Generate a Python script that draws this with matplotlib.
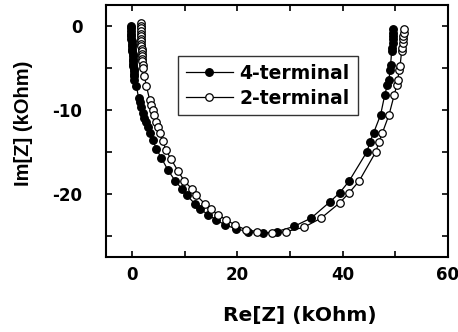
import matplotlib
matplotlib.use("Agg")
import matplotlib.pyplot as plt
from matplotlib.ticker import MultipleLocator

plt.rcParams['font.family'] = ['DejaVu Sans']
plt.rcParams['font.weight'] = 'bold'
plt.rcParams['axes.unicode_minus'] = False

series_labels = ["4-terminal", "2-terminal"]

re_4t = [-0.3, -0.3, -0.25, -0.2, -0.2, -0.15, -0.1, -0.1, -0.05, 0.0, 0.0, 0.05, 0.1, 0.1,
         0.15, 0.2, 0.2, 0.25, 0.3, 0.3, 0.35, 0.4, 0.8, 1.2, 1.4, 1.7, 2.0, 2.3, 2.6, 2.9,
         3.4, 3.9, 4.6, 5.5, 6.8, 8.2, 9.4, 10.4, 11.9, 12.9, 14.4, 15.9, 17.6, 19.8, 22.0,
         24.8, 27.5, 30.7, 34.0, 37.5, 39.4, 41.2, 44.6, 45.2, 45.9, 47.2, 48.0, 48.5, 48.8,
         49.0, 49.1, 49.3, 49.4, 49.5, 49.5, 49.5, 49.6, 49.6]
im_4t = [0.0, -0.3, -0.6, -0.9, -1.2, -1.5, -1.8, -2.1, -2.4, -2.7, -3.0, -3.3, -3.6, -3.9,
         -4.2, -4.5, -4.8, -5.1, -5.4, -5.7, -6.0, -6.4, -7.2, -8.6, -9.1, -9.6, -10.4, -11.0,
         -11.5, -12.0, -12.7, -13.6, -14.7, -15.7, -17.2, -18.5, -19.4, -20.2, -21.2, -21.8,
         -22.5, -23.1, -23.7, -24.2, -24.5, -24.7, -24.5, -23.9, -22.9, -21.0, -19.9, -18.5,
         -15.0, -13.8, -12.7, -10.6, -8.2, -7.0, -6.4, -5.2, -4.7, -3.0, -2.6, -2.0, -1.6,
         -1.2, -0.8, -0.4]

re_2t = [1.6, 1.6, 1.6, 1.65, 1.65, 1.7, 1.7, 1.7, 1.75, 1.75, 1.8, 1.8, 1.85, 1.85, 1.9,
         1.9, 1.95, 2.0, 2.3, 2.7, 3.3, 3.6, 3.9, 4.2, 4.5, 4.8, 5.3, 5.8, 6.4, 7.4, 8.7, 9.9,
         11.3, 12.2, 13.8, 14.9, 16.3, 17.8, 19.5, 21.6, 23.8, 26.5, 29.3, 32.6, 35.9, 39.4,
         41.2, 43.1, 46.3, 46.9, 47.5, 48.8, 49.8, 50.3, 50.5, 50.7, 50.9, 51.2, 51.3, 51.4,
         51.4, 51.5, 51.6, 51.6]
im_2t = [0.3, 0.0, -0.3, -0.6, -0.9, -1.2, -1.5, -1.8, -2.1, -2.4, -2.7, -3.0, -3.3, -3.6,
         -3.9, -4.2, -4.6, -5.0, -6.0, -7.2, -8.8, -9.4, -10.0, -10.6, -11.4, -12.0, -12.8,
         -13.7, -14.8, -15.9, -17.3, -18.5, -19.4, -20.2, -21.2, -21.8, -22.5, -23.1, -23.7,
         -24.3, -24.5, -24.7, -24.5, -24.0, -22.9, -21.1, -19.9, -18.5, -15.0, -13.8, -12.8,
         -10.6, -8.2, -7.0, -6.4, -5.2, -4.8, -3.0, -2.6, -2.0, -1.6, -1.2, -0.8, -0.4]

xticks = [0, 20, 40, 60]
yticks = [0, -10, -20]

fig = plt.figure(figsize=(4.58, 3.32), dpi=100)
ax = fig.add_axes([0.2314, 0.2268, 0.7466, 0.7582])

ax.plot(re_4t, im_4t, '-o', color='black', mfc='black', mec='black', ms=5.4, lw=0.9,
        label=series_labels[0])
ax.plot(re_2t, im_2t, '-o', color='black', mfc='white', mec='black', ms=5.4, lw=0.9,
        mew=0.9, label=series_labels[1])

ax.set_xlim(-5, 60)
ax.set_ylim(-27.5, 2.5)
ax.set_xticks(xticks)
ax.set_yticks(yticks)
ax.xaxis.set_minor_locator(MultipleLocator(10))
ax.yaxis.set_minor_locator(MultipleLocator(5))
ax.tick_params(which='both', direction='in', top=True, right=True, length=4, width=1.2,
               labelsize=12)
ax.tick_params(axis='x', which='major', pad=7)
ax.tick_params(axis='y', which='major', pad=17)
for s in ax.spines.values():
    s.set_linewidth(1.5)

ax.set_xlabel("Re[Z] (kOhm)", fontsize=14.5, fontweight='bold')
ax.set_ylabel("Im[Z] (kOhm)", fontsize=14.5, fontweight='bold',
              family=['Liberation Sans', 'DejaVu Sans'])
ax.xaxis.set_label_coords(0.567, -0.195)
ax.yaxis.set_label_coords(-0.213, 0.529)

leg = ax.legend(loc='upper left', bbox_to_anchor=(0.21, 0.797), frameon=True, fancybox=False,
                edgecolor='black', fontsize=13.5, handlelength=2.5, handletextpad=0.37,
                borderpad=0.42, labelspacing=0.3, borderaxespad=0)
leg.get_frame().set_linewidth(1.0)
for t in leg.get_texts():
    t.set_fontweight('bold')

fig.savefig("out.png", dpi=100)
